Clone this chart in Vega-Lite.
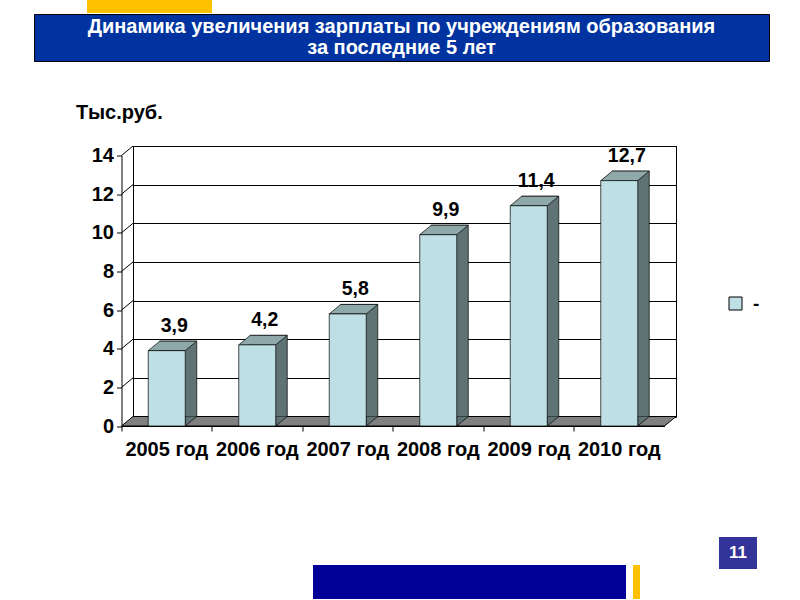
{
  "$schema": "https://vega.github.io/schema/vega-lite/v6.json",
  "padding": 0,
  "autosize": {"type": "pad"},
  "background": "white",
  "spacing": 0,
  "config": {
    "view": {"stroke": null},
    "concat": {"spacing": 0},
    "font": "Liberation Sans",
    "locale": {"number": {"decimal": ",", "thousands": "\u00a0", "grouping": [3], "currency": ["", " ₽"]}}
  },
  "datasets": {
    "salary": [
      {"year": "2005 год", "value": 3.9},
      {"year": "2006 год", "value": 4.2},
      {"year": "2007 год", "value": 5.8},
      {"year": "2008 год", "value": 9.9},
      {"year": "2009 год", "value": 11.4},
      {"year": "2010 год", "value": 12.7}
    ]
  },
  "vconcat": [
    {
      "spacing": 0,
      "hconcat": [
        {"width": 87, "height": 13, "data": {"values": []}, "mark": "point"},
        {"width": 125, "height": 13, "data": {"values": []}, "mark": "point", "view": {"fill": "#FFC000", "stroke": null}}
      ]
    },
    {
      "spacing": 0,
      "hconcat": [
        {"width": 33, "height": 47, "data": {"values": []}, "mark": "point"},
        {
          "width": 735, "height": 47,
          "view": {"fill": "#0033A0", "stroke": "black", "strokeWidth": 1},
          "data": {"values": [{}]},
          "mark": {"type": "text", "text": ["Динамика увеличения зарплаты по учреждениям образования", "за последние 5 лет"], "lineHeight": 21, "dy": -10.5, "fontSize": 20, "fontWeight": "bold", "font": "Liberation Sans", "color": "white", "baseline": "middle", "align": "center"}
        }
      ]
    },
    {"width": 10, "height": 40, "data": {"values": []}, "mark": "point"},
    {
      "spacing": 0,
      "hconcat": [
        {"width": 75, "height": 10, "data": {"values": []}, "mark": "point"},
        {
          "width": 543,
          "height": 270.5,
          "view": {"stroke": "black", "strokeWidth": 1, "fill": "white"},
          "title": {"text": "Тыс.руб.", "anchor": "start", "frame": "group", "dx": -57, "offset": 11, "baseline": "middle", "fontSize": 20, "font": "Liberation Sans", "fontWeight": "bold", "color": "black"},
          "data": {"name": "salary"},
          "resolve": {"axis": {"y": "independent"}},
          "encoding": {
            "x": {"field": "year", "type": "nominal", "sort": null, "scale": {"paddingInner": 0, "paddingOuter": 0},
              "axis": {"orient": "bottom", "offset": 9.5, "position": -11.5, "domainColor": "black", "domainWidth": 1, "tickColor": "black", "tickSize": 5, "bandPosition": 0, "labelAngle": 0, "labelFont": "Liberation Sans", "labelFontSize": 20, "labelFontWeight": "bold", "labelColor": "black", "labelPadding": 8, "title": null, "grid": false}}
          },
          "layer": [
            {
              "transform": [{"filter": "datum.year === '2005 год'"}],
              "mark": {"type": "point", "shape": "M-45.25,0 L497.75,0 L486.25,9.5 L-56.75,9.5 Z", "size": 4, "filled": true, "fill": "#808080", "stroke": "black", "strokeWidth": 1, "opacity": 1},
              "encoding": {
                "y": {"datum": 0, "type": "quantitative", "scale": {"domain": [0, 14], "nice": false},
                  "axis": {"orient": "left", "grid": true, "gridColor": "black", "gridWidth": 1, "gridOpacity": 1, "domain": false, "ticks": false, "labels": false, "title": null, "values": [0, 2, 4, 6, 8, 10, 12, 14]}}
              }
            },
            {
              "transform": [{"filter": "datum.year === '2005 год'"}],
              "mark": {"type": "point", "shape": "M-45.25,-38.64 L-56.75,-29.14 M-45.25,-77.29 L-56.75,-67.79 M-45.25,-115.93 L-56.75,-106.43 M-45.25,-154.57 L-56.75,-145.07 M-45.25,-193.21 L-56.75,-183.71 M-45.25,-231.86 L-56.75,-222.36 M-45.25,-270.5 L-56.75,-261", "size": 4, "filled": false, "stroke": "black", "strokeWidth": 1, "opacity": 1},
              "encoding": {
                "y": {"datum": 0, "type": "quantitative", "scale": {"domain": [0, 14], "nice": false}, "axis": null}
              }
            },
            {
              "mark": {"type": "bar", "width": 37, "fill": "#5F7375", "stroke": "black", "strokeWidth": 0.7},
              "encoding": {
                "y": {"field": "value", "type": "quantitative", "scale": {"domain": [0, 14], "nice": false}, "axis": null}
              }
            },
            {
              "mark": {"type": "point", "shape": "M18.5,0 L7,9.5 L7,0", "size": 4, "filled": true, "fill": "#5F7375", "stroke": "black", "strokeWidth": 0.7, "opacity": 1},
              "encoding": {
                "y": {"datum": 0, "type": "quantitative", "scale": {"domain": [0, 14], "nice": false}, "axis": null}
              }
            },
            {
              "mark": {"type": "point", "shape": "M-18.5,0 L18.5,0 L7,9.5 L-30,9.5 Z", "size": 4, "filled": true, "fill": "#8FA8AA", "stroke": "black", "strokeWidth": 0.7, "opacity": 1},
              "encoding": {
                "y": {"field": "value", "type": "quantitative", "scale": {"domain": [0, 14], "nice": false}, "axis": null}
              }
            },
            {
              "mark": {"type": "bar", "width": 37, "xOffset": -11.5, "yOffset": 9.5, "y2Offset": 9.5, "stroke": "black", "strokeWidth": 0.7, "opacity": 1},
              "encoding": {
                "y": {"field": "value", "type": "quantitative", "scale": {"domain": [0, 14], "nice": false},
                  "axis": {"orient": "left", "grid": false, "offset": 11.5, "position": 9.5, "domainColor": "black", "domainWidth": 1, "tickColor": "black", "tickSize": 5, "labelFont": "Liberation Sans", "labelFontSize": 20, "labelFontWeight": "bold", "labelColor": "black", "labelPadding": 3, "title": null, "values": [0, 2, 4, 6, 8, 10, 12, 14]}},
                "fill": {"datum": "-", "type": "nominal", "scale": {"range": ["#BEE0E4"]},
                  "legend": {"orient": "none", "legendX": 726, "legendY": 294, "padding": 0, "title": null, "symbolType": "square", "symbolSize": 169, "symbolStrokeColor": "black", "symbolStrokeWidth": 1, "symbolOpacity": 1, "labelFont": "Liberation Sans", "labelFontSize": 19, "labelFontWeight": "bold", "labelColor": "black", "labelOffset": 8}}
              }
            },
            {
              "mark": {"type": "text", "dy": -15, "xOffset": -4, "fontSize": 19.5, "fontWeight": "bold", "font": "Liberation Sans", "baseline": "middle", "align": "center", "color": "black"},
              "encoding": {
                "y": {"field": "value", "type": "quantitative", "scale": {"domain": [0, 14], "nice": false}, "axis": null},
                "text": {"field": "value", "type": "quantitative", "format": ".1f"}
              }
            }
          ]
        }
      ]
    },
    {"width": 10, "height": 77, "data": {"values": []}, "mark": "point"},
    {
      "spacing": 0,
      "hconcat": [
        {"width": 313, "height": 32, "data": {"values": []}, "mark": "point"},
        {"spacing": 0, "vconcat": [
          {"width": 313, "height": 28, "data": {"values": []}, "mark": "point"},
          {"width": 313, "height": 34, "data": {"values": []}, "mark": "point", "view": {"fill": "#000099", "stroke": null}}
        ]},
        {"width": 7, "height": 32, "data": {"values": []}, "mark": "point"},
        {"spacing": 0, "vconcat": [
          {"width": 7, "height": 28, "data": {"values": []}, "mark": "point"},
          {"width": 7, "height": 34, "data": {"values": []}, "mark": "point", "view": {"fill": "#FFC000", "stroke": null}}
        ]},
        {"width": 79, "height": 32, "data": {"values": []}, "mark": "point"},
        {
          "width": 38, "height": 32,
          "view": {"fill": "#333399", "stroke": null},
          "data": {"values": [{}]},
          "mark": {"type": "text", "text": "11", "fontSize": 17, "fontWeight": "bold", "font": "Liberation Sans", "color": "white", "baseline": "middle", "align": "center"}
        }
      ]
    }
  ]
}
